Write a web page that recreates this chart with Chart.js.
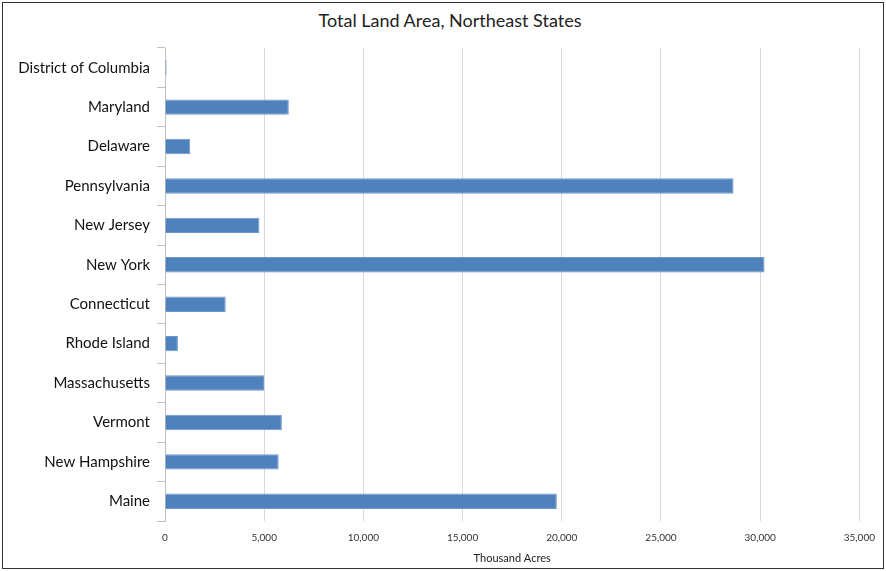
<!DOCTYPE html>
<html lang="en">
  <head>
    <meta charset="UTF-8" />
    <title>Total Land Area, Northeast States</title>
    <script src="https://cdn.jsdelivr.net/npm/chart.js"></script>
    <style>
      body {
        margin: 0;
        background: #fff;
        font-family: Lato, sans-serif;
      }
      .frame {
        position: absolute;
        left: 2px;
        top: 2px;
        width: 880px;
        height: 565px;
        border: 1.5px solid #333;
      }
      .chart-title {
        position: absolute;
        left: 14px;
        top: 9px;
        width: 872px;
        text-align: center;
        font-size: 18px;
        line-height: 22px;
        color: #222;
      }
      .chart-container {
        position: absolute;
        left: 0;
        top: 0;
        width: 886px;
        height: 571px;
      }
    </style>
  </head>
  <body>
    <div class="frame"></div>
    <div class="chart-title">Total Land Area, Northeast States</div>
    <div class="chart-container">
      <canvas id="landChart" width="886" height="571"></canvas>
    </div>
    <script>
      // States top to bottom, land area in thousand acres
      const states = [
        'District of Columbia',
        'Maryland',
        'Delaware',
        'Pennsylvania',
        'New Jersey',
        'New York',
        'Connecticut',
        'Rhode Island',
        'Massachusetts',
        'Vermont',
        'New Hampshire',
        'Maine',
      ];
      const landArea = [
        80, 6240, 1270, 28660, 4760, 30220, 3060, 650, 4990, 5890, 5730, 19750,
      ];
      const xTicks = [0, 5000, 10000, 15000, 20000, 25000, 30000, 35000];

      const ctx = document.getElementById('landChart').getContext('2d');
      new Chart(ctx, {
        type: 'bar',
        data: {
          labels: states,
          datasets: [
            {
              label: 'Thousand Acres',
              data: landArea,
              backgroundColor: '#4f81bd',
              borderColor: '#6f97c9',
              borderWidth: 1,
              categoryPercentage: 1,
              barPercentage: 0.39,
            },
          ],
        },
        options: {
          indexAxis: 'y',
          responsive: false,
          animation: false,
          layout: { padding: { left: 0, right: 24, top: 48, bottom: 6 } },
          plugins: {
            legend: { display: false },
            tooltip: { enabled: false },
          },
          scales: {
            x: {
              min: 0,
              max: 35000,
              afterBuildTicks: (scale) => {
                scale.ticks = xTicks.map((v) => ({ value: v }));
              },
              afterFit: (scale) => {
                scale.height = 44;
              },
              grid: { color: '#d9d9d9', tickLength: 0, drawTicks: false },
              border: { display: false },
              ticks: {
                color: '#333',
                font: { family: 'Lato', size: 10 },
                padding: 11,
                callback: (v) => v.toLocaleString('en-US'),
              },
              title: {
                display: true,
                text: 'Thousand Acres',
                color: '#222',
                font: { family: 'Lato', size: 11 },
                padding: { top: 6, bottom: 0 },
              },
            },
            y: {
              afterFit: (scale) => {
                scale.width = 165;
              },
              grid: {
                drawOnChartArea: false,
                tickLength: 8,
                color: '#bfbfbf',
              },
              border: { color: '#bfbfbf' },
              ticks: {
                color: '#111',
                font: { family: 'Lato', size: 15 },
                padding: 7,
              },
            },
          },
        },
      });
    </script>
  </body>
</html>
